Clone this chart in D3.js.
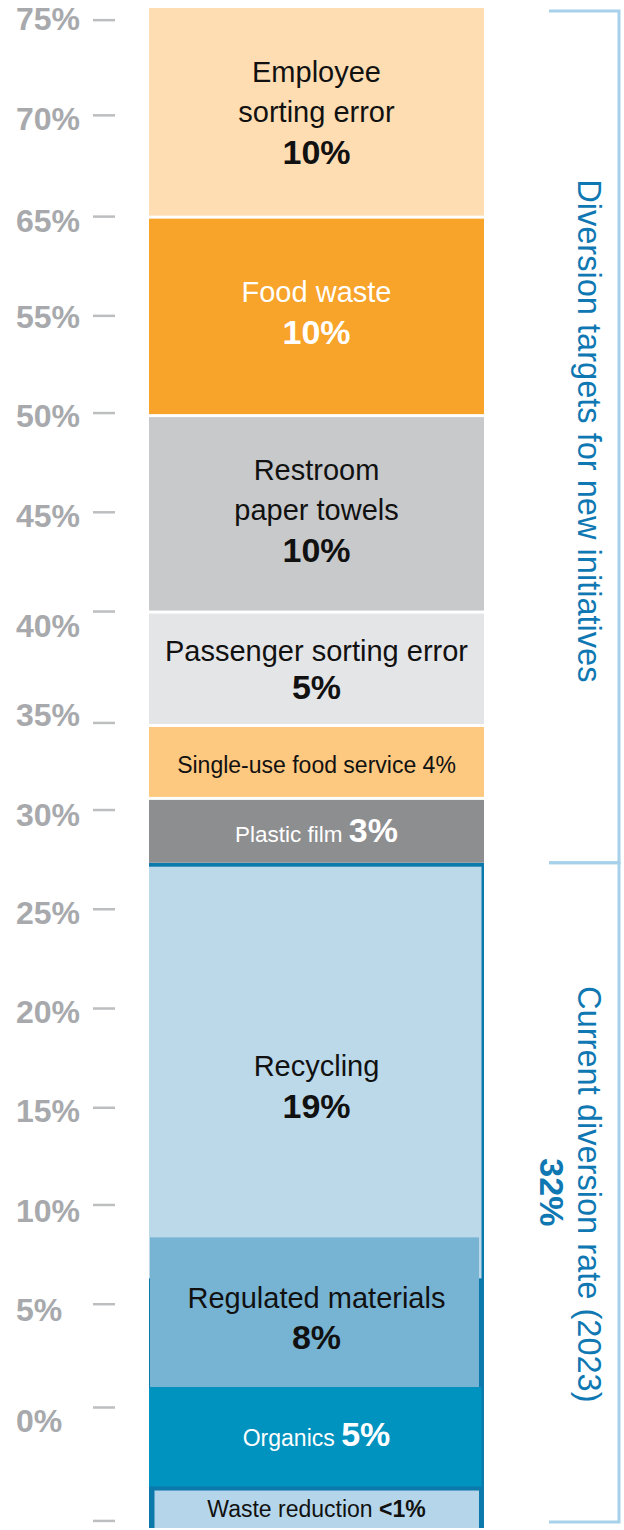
<!DOCTYPE html>
<html>
<head>
<meta charset="utf-8">
<script src="https://cdn.jsdelivr.net/npm/d3@7"></script>
<style>
  body { margin: 0; background: #fff; }
  svg { display: block; font-family: "Liberation Sans", Arial, Helvetica, sans-serif; }
</style>
</head>
<body>
<div id="chart"></div>
<script>
var width = 624, height = 1530;

// segments, bottom to top
var segmentNames = ["Waste reduction", "Organics", "Regulated materials", "Recycling", "Plastic film",
  "Single-use food service", "Passenger sorting error", "Restroom paper towels", "Food waste", "Employee sorting error"];
var segmentLines = [["Waste reduction"], ["Organics"], ["Regulated materials"], ["Recycling"], ["Plastic film"],
  ["Single-use food service"], ["Passenger sorting error"], ["Restroom", "paper towels"], ["Food waste"], ["Employee", "sorting error"]];
var segmentLabels = ["<1%", "5%", "8%", "19%", "3%", "4%", "5%", "10%", "10%", "10%"];
// height each block is drawn with (axis units)
var drawnHeights = [1.9, 5.0, 7.4, 18.5, 3.1, 3.6, 5.6, 9.7, 9.8, 10.4];
var currentCount = 4; // bottom blocks = current diversion

// the (odd) axis of the original
var tickLabels = ["75%", "70%", "65%", "55%", "50%", "45%", "40%", "35%", "30%", "25%", "20%", "15%", "10%", "5%", "0%", ""];
var tickAt = [74.4, 69.7, 64.7, 59.8, 55.0, 50.1, 45.2, 39.7, 35.4, 30.5, 25.6, 20.7, 15.9, 11.0, 5.9, 0.3];
var labelAt = [74.46, 69.55, 64.53, 59.75, 54.86, 49.96, 44.49, 40.12, 35.2, 30.32, 25.43, 20.54, 15.65, 10.76, 5.28];

var bracketTitles = ["Current diversion rate (2023)", "Diversion targets for new initiatives"];
var currentTotal = "32%";

var ink = "#111111";
var style = {
  "Waste reduction":        {fill: "#b5d6ea", color: ink, inline: true, size: 23, pct: 23, bold: true, x0: 5.5, x1: -5, top: 2, bot: 0, dy: 0},
  "Organics":               {fill: "#0093c0", color: "#ffffff", inline: true, size: 23, pct: 34, bold: true, x0: 0, x1: -2.5, top: 0, bot: 0, dy: -4},
  "Regulated materials":    {fill: "#77b4d4", color: ink, inline: false, size: 29, pct: 34, bold: true, x0: 1, x1: -5, top: 0, bot: 0, dy: 5},
  "Recycling":              {fill: "#bcd9ea", color: ink, inline: false, size: 29, pct: 34, bold: true, x0: 0, x1: -2.5, top: 4, bot: 0, dy: 34},
  "Plastic film":           {fill: "#8d8e90", color: "#ffffff", inline: true, size: 22.5, pct: 34, bold: true, x0: 0, x1: 0, top: 0, bot: 0, dy: -1},
  "Single-use food service":{fill: "#fdc880", color: ink, inline: true, size: 23, pct: 23, bold: false, x0: 0, x1: 0, top: 0, bot: 3, dy: 3},
  "Passenger sorting error":{fill: "#e4e5e7", color: ink, inline: false, size: 29, pct: 34, bold: true, x0: 0, x1: 0, top: 0, bot: 3, dy: 0, lh: 36},
  "Restroom paper towels":  {fill: "#c8c9cb", color: ink, inline: false, size: 29, pct: 34, bold: true, x0: 0, x1: 0, top: 0, bot: 3, dy: -4},
  "Food waste":             {fill: "#f8a329", color: "#ffffff", inline: false, size: 29, pct: 34, bold: true, x0: 0, x1: 0, top: 0, bot: 3, dy: -5},
  "Employee sorting error": {fill: "#feddb3", color: ink, inline: false, size: 29, pct: 34, bold: true, x0: 0, x1: 0, top: 0, bot: 3, dy: 0}
};

var svg = d3.select("#chart").append("svg")
  .attr("width", width)
  .attr("height", height);

var y = d3.scaleLinear().domain([0, 75]).range([1527, 8]);
var x = d3.scaleBand().domain(["diversion"]).range([149, 484]);

var tops = d3.cumsum(drawnHeights);
var segs = segmentNames.map(function(n, i) {
  return {name: n, lines: segmentLines[i], label: segmentLabels[i],
          y0: tops[i] - drawnHeights[i], y1: tops[i], current: i < currentCount};
});

// axis
var axis = svg.append("g");
axis.selectAll("line")
  .data(tickAt)
  .enter().append("line")
  .attr("x1", 93).attr("x2", 115)
  .attr("y1", d => y(d)).attr("y2", d => y(d))
  .attr("stroke", "#bcbec0")
  .attr("stroke-width", 2.5);
axis.selectAll("text")
  .data(labelAt)
  .enter().append("text")
  .attr("x", 16)
  .attr("y", d => y(d) + 11.5)
  .attr("font-size", 32)
  .attr("font-weight", "bold")
  .attr("fill", "#a7a9ac")
  .text((d, i) => tickLabels[i]);

// outline of current diversion block
var cur = segs.slice(0, currentCount);
svg.append("rect")
  .attr("x", x("diversion"))
  .attr("y", y(cur[currentCount - 1].y1))
  .attr("width", x.bandwidth())
  .attr("height", 1528 - y(cur[currentCount - 1].y1))
  .attr("fill", "#0b79ab");

// blocks, drawn top to bottom so lower blocks overlap recycling
var order = segs.slice().reverse();
svg.append("g").selectAll("rect")
  .data(order)
  .enter().append("rect")
  .attr("x", d => x("diversion") + style[d.name].x0)
  .attr("width", d => x.bandwidth() - style[d.name].x0 + style[d.name].x1)
  .attr("y", d => y(d.y1) + style[d.name].top)
  .attr("height", function(d) {
    var s = style[d.name];
    var bottom = y(d.y0) - s.bot;
    if (d.name === "Recycling") bottom += 41;   // runs under the regulated block
    if (d.name === "Waste reduction") bottom = 1528;
    if (d.name === "Organics") bottom -= 2;
    return bottom - (y(d.y1) + s.top);
  })
  .attr("fill", d => style[d.name].fill);

// labels
var labels = svg.append("g").attr("text-anchor", "middle");
segs.forEach(function(d) {
  var s = style[d.name];
  var cx = x("diversion") + x.bandwidth() / 2;
  var cy = (y(d.y1) + s.top + y(d.y0) - s.bot) / 2 + s.dy;
  if (s.inline) {
    var t = labels.append("text")
      .attr("x", cx)
      .attr("y", cy + 0.358 * Math.max(s.size, s.pct))
      .attr("fill", s.color);
    t.append("tspan").attr("font-size", s.size).text(d.lines[0] + " ");
    t.append("tspan").attr("font-size", s.pct)
      .attr("font-weight", s.bold ? "bold" : "normal")
      .text(d.label);
  } else {
    var lines = d.lines.map(l => ({t: l, size: s.size, w: "normal"}));
    lines.push({t: d.label, size: s.pct, w: "bold"});
    var lh = s.lh || 40;
    lines.forEach(function(l, i) {
      labels.append("text")
        .attr("x", cx)
        .attr("y", cy + (i - (lines.length - 1) / 2) * lh + 0.358 * l.size)
        .attr("font-size", l.size)
        .attr("font-weight", l.w)
        .attr("fill", s.color)
        .text(l.t);
    });
  }
});

// brackets on the right
var bx = 619, bl = 549;
var brackets = [
  {top: y(segs[currentCount].y0), bottom: y(0) - 5, title: bracketTitles[0], total: currentTotal},
  {top: y(75) + 3, bottom: y(segs[currentCount].y0), title: bracketTitles[1], total: null}
];
var br = svg.append("g");
brackets.forEach(function(b, i) {
  br.append("path")
    .attr("d", "M" + bl + "," + b.top + "H" + bx + "V" + b.bottom + "H" + bl)
    .attr("fill", "none")
    .attr("stroke", "#a6d1e9")
    .attr("stroke-width", 3);
  var g = br.append("g")
    .attr("transform", "translate(578," + ((b.top + b.bottom) / 2 + (i ? -6 : 2)) + ") rotate(90)")
    .attr("text-anchor", "middle")
    .attr("fill", "#0f78b2");
  g.append("text").attr("font-size", 32.6).text(b.title);
  if (b.total) {
    g.append("text").attr("y", 38).attr("dx", -2).attr("font-size", 34).attr("font-weight", "bold").text(b.total);
  }
});
</script>
</body>
</html>
